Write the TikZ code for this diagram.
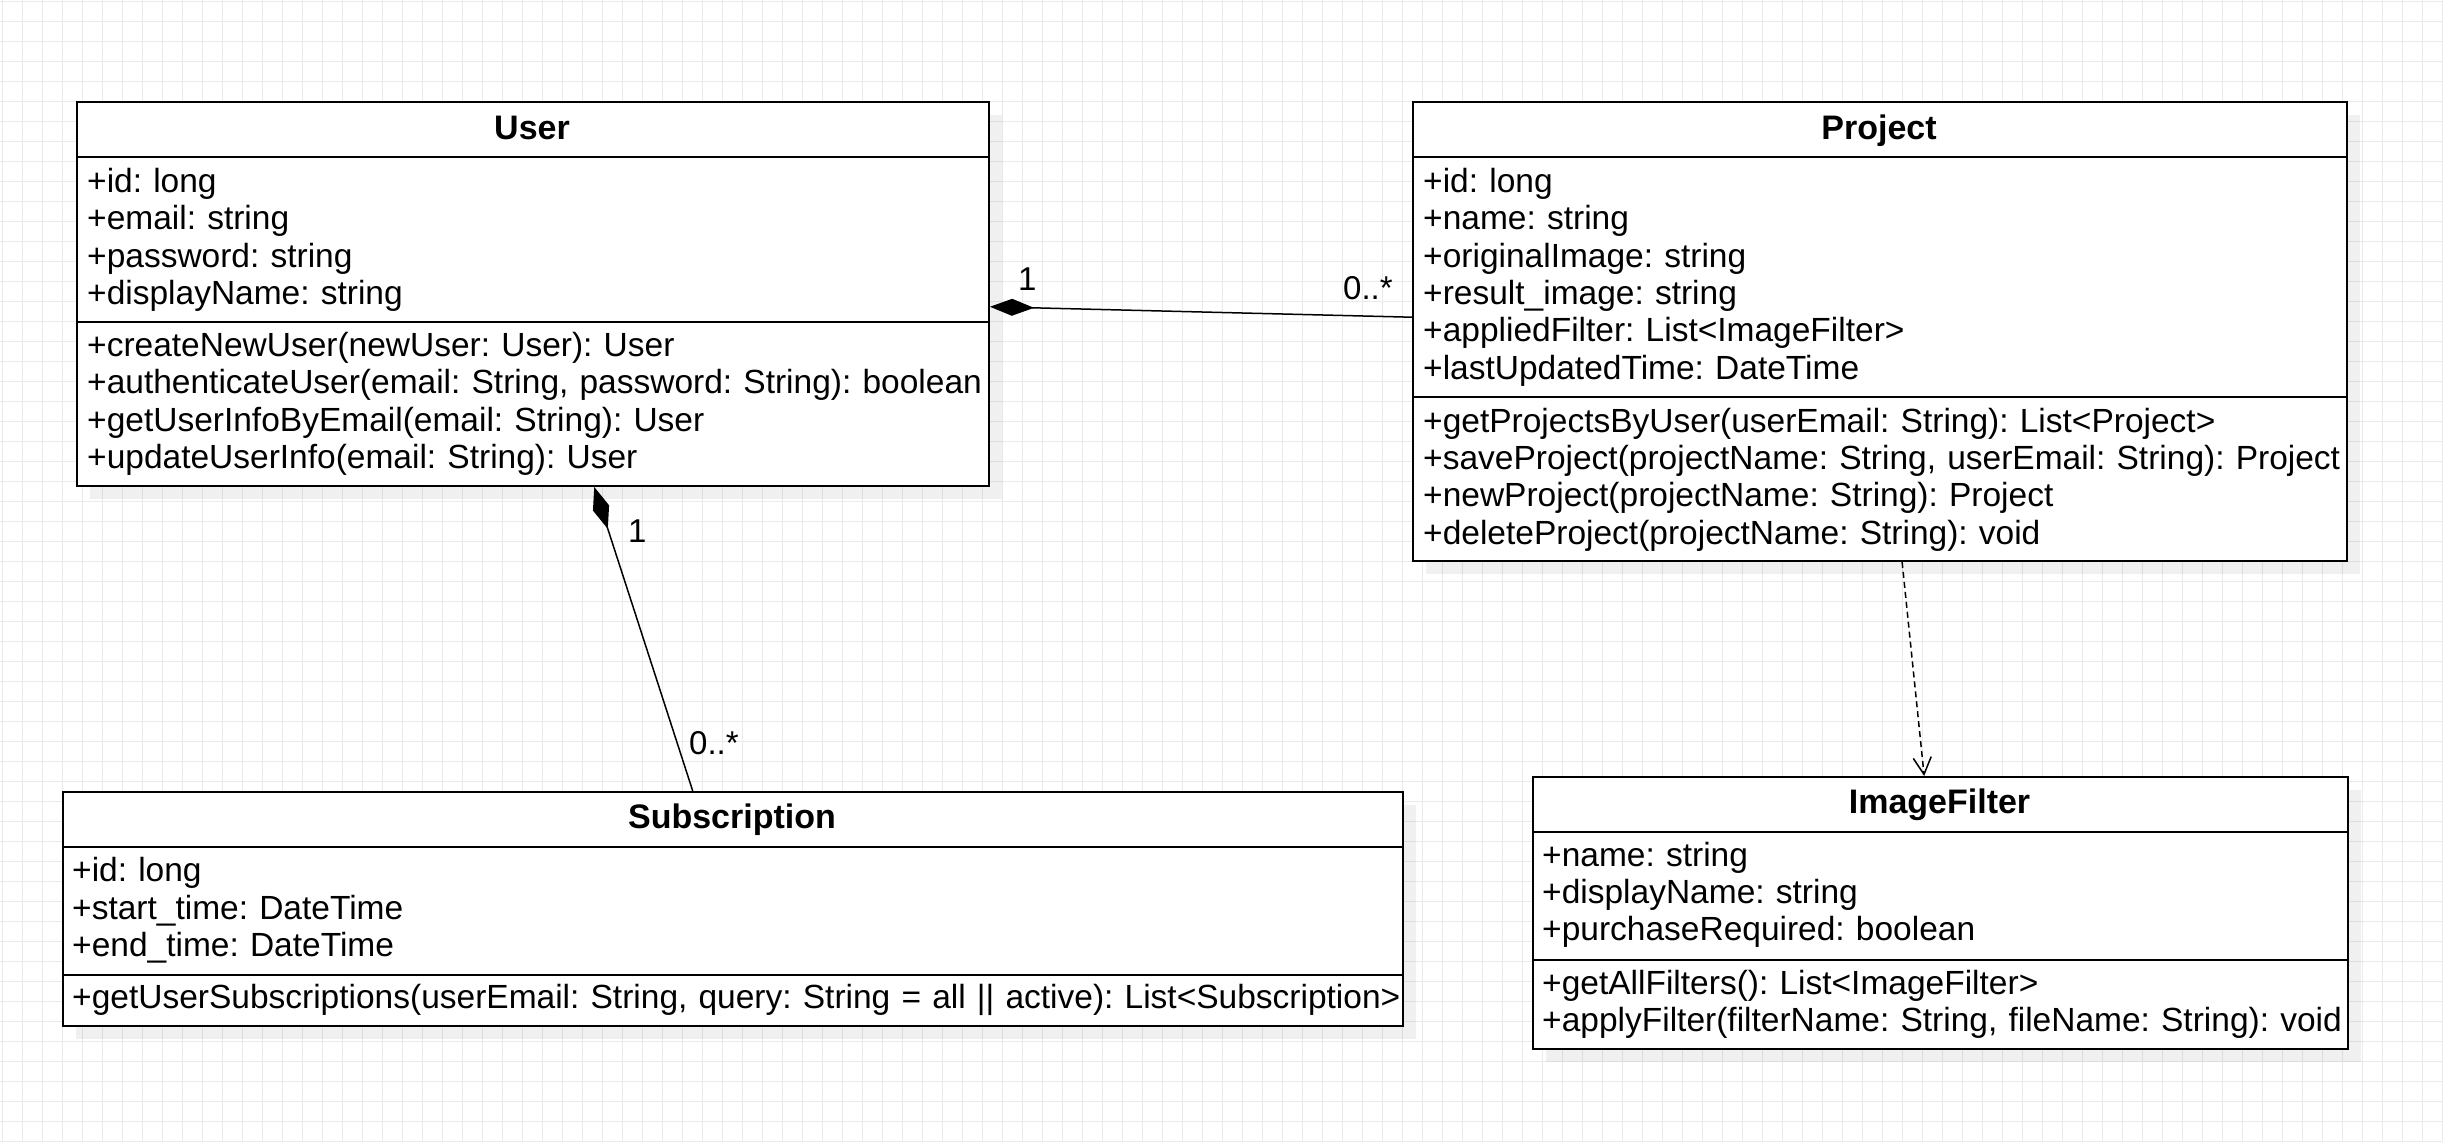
\documentclass[tikz,border=0pt]{standalone}
\usepackage{fontspec}
\setmainfont{Liberation Sans}
\usepackage{xcolor}
\usetikzlibrary{calc,
	arrows.meta,
	shadows}

\definecolor{gridgray}{RGB}{234,234,234}
\frenchspacing

\begin{document}
\begin{tikzpicture}[x=1pt, y=-1pt,
	classbox/.style={draw, line width=2pt, fill=white, anchor=north west, inner sep=0pt,
		drop shadow={shadow xshift=13pt, shadow yshift=-13pt, fill=black, opacity=0.06}},
	boxline/.style={line width=2pt},
	title/.style={anchor=base, inner sep=0pt, font=\fontsize{34}{40}\selectfont\bfseries},
	members/.style={anchor=base west, inner sep=0pt, text width=1400pt, align=left,
		font=\fontsize{33.5}{37.4}\selectfont},
	mult/.style={anchor=base west, inner sep=0pt, font=\fontsize{33}{38}\selectfont},
	comp/.style={line width=1.5pt, {Diamond[length=44pt, width=17pt]}-},
	dep/.style={line width=1.5pt, dash pattern=on 6pt off 4pt, -{Straight Barb[length=17pt, width=18pt]}}]
	\useasboundingbox (0, 0) rectangle (2443, 1141);
	\fill[white] (0, 0) rectangle (2443, 1141);
	\begin{scope}[shift={(2, 1)}]
		\draw[gridgray, line width=1pt, step=20pt] (-2, -1) grid (2441, 1140);
	\end{scope}

	% User
	\node[classbox, minimum width=912pt, minimum height=384pt] (user) at (76, 101) {};
	\draw[boxline] (76, 157) -- (988, 157);
	\draw[boxline] (76, 322) -- (988, 322);
	\node[title] (user-name) at (532, 139.3) {User};
	\node[members] (user-attr) at (87, 192.3) {+id: long\\+email: string\\+password: string\\+displayName: string};
	\node[members] (user-ops) at (87, 356.5) {+createNewUser(newUser: User): User\\+authenticateUser(email: String, password: String): boolean\\+getUserInfoByEmail(email: String): User\\+updateUserInfo(email: String): User};

	% Project
	\node[classbox, minimum width=934pt, minimum height=459pt] (project) at (1412, 101) {};
	\draw[boxline] (1412, 157) -- (2346, 157);
	\draw[boxline] (1412, 397) -- (2346, 397);
	\node[title] (project-name) at (1879, 139.3) {Project};
	\node[members] (project-attr) at (1423, 192.3) {+id: long\\+name: string\\+originalImage: string\\+result\_image: string\\+appliedFilter: List<ImageFilter>\\+lastUpdatedTime: DateTime};
	\node[members] (project-ops) at (1423, 432) {+getProjectsByUser(userEmail: String): List<Project>\\+saveProject(projectName: String, userEmail: String): Project\\+newProject(projectName: String): Project\\+deleteProject(projectName: String): void};

	% Subscription
	\node[classbox, minimum width=1340pt, minimum height=234pt] (subscription) at (62, 791) {};
	\draw[boxline] (62, 847) -- (1402, 847);
	\draw[boxline] (62, 975) -- (1402, 975);
	\node[title] (subscription-name) at (732, 828.8) {Subscription};
	\node[members] (subscription-attr) at (72, 881.6) {+id: long\\+start\_time: DateTime\\+end\_time: DateTime};
	\node[members] (subscription-ops) at (72, 1008) {+getUserSubscriptions(userEmail: String, query: String = all || active): List<Subscription>};

	% ImageFilter
	\node[classbox, minimum width=815pt, minimum height=272pt] (imagefilter) at (1532, 776) {};
	\draw[boxline] (1532, 832) -- (2347, 832);
	\draw[boxline] (1532, 960) -- (2347, 960);
	\node[title] (imagefilter-name) at (1939.5, 813.5) {ImageFilter};
	\node[members] (imagefilter-attr) at (1542, 866) {+name: string\\+displayName: string\\+purchaseRequired: boolean};
	\node[members] (imagefilter-ops) at (1542, 994) {+getAllFilters(): List<ImageFilter>\\+applyFilter(filterName: String, fileName: String): void};

	% associations
	\draw[comp] ($(user.north east)!0.533!(user.south east)$) -- ($(project.north west)!0.469!(project.south west)$);
	\node[mult] (m-user-p) at (1018, 290.7) {1};
	\node[mult] (m-project) at (1343, 299.3) {0..*};

	\draw[comp] ($(user.south west)!0.567!(user.south east)$) -- ($(subscription.north west)!0.47!(subscription.north east)$);
	\node[mult] (m-user-s) at (628, 542.7) {1};
	\node[mult] (m-subscription) at (689, 754) {0..*};

	\draw[dep] ($(project.south west)!0.5236!(project.south east)$) -- ($(imagefilter.north west)!0.48!(imagefilter.north east)$);
\end{tikzpicture}
\end{document}
